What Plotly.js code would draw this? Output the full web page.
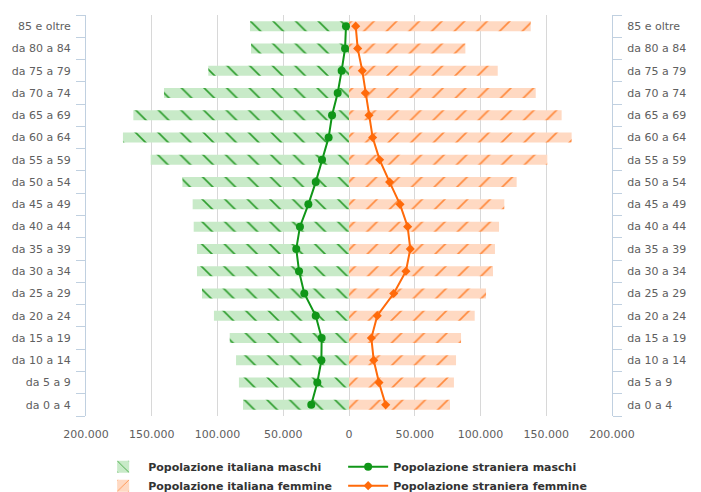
<!DOCTYPE html>
<html>
<head>
<meta charset="utf-8">
<script src="https://cdn.plot.ly/plotly-3.0.1.min.js"></script>
<style>html,body{margin:0;padding:0;background:#fff;}#chart{width:701px;height:492px;}</style>
</head>
<body>
<div id="chart"></div>
<script>
// Age classes, bottom to top
const categories = ["da 0 a 4","da 5 a 9","da 10 a 14","da 15 a 19","da 20 a 24","da 25 a 29","da 30 a 34","da 35 a 39","da 40 a 44","da 45 a 49","da 50 a 54","da 55 a 59","da 60 a 64","da 65 a 69","da 70 a 74","da 75 a 79","da 80 a 84","85 e oltre"];
const italianaMaschi = [80600,83700,85900,90700,102700,111800,115600,115600,118100,118900,126700,150800,171900,164000,140700,107000,74500,75300];
const stranieraMaschi = [28700,24100,21000,20800,25300,34000,38000,40100,37300,30900,25300,20500,15500,12900,8600,5600,3000,2300];
const italianaFemmine = [76800,79800,81400,85200,95600,104200,109500,111000,114100,118100,127500,150800,169300,161700,142000,113100,88500,138200];
const stranieraFemmine = [27900,22800,18800,17000,21500,34000,43300,46600,44600,38800,30900,23300,18000,15200,12400,10100,6600,5100];
const xTickVals = [-200000,-150000,-100000,-50000,0,50000,100000,150000,200000];
const xTickText = ["200.000","150.000","100.000","50.000","0","50.000","100.000","150.000","200.000"];

const neg = a => a.map(v => -v);
const lbl = "#606060";
const axisCol = "#C0D0E0";
const fam = "DejaVu Sans, Verdana, sans-serif";

const traces = [
  {type:"bar", orientation:"h", name:"Popolazione italiana maschi", y:categories, x:neg(italianaMaschi), width:0.45,
   marker:{color:"#C8EAC8", line:{width:0}, pattern:{shape:"\\", fgcolor:"#2E9E2E", bgcolor:"#C8EAC8", size:16, solidity:0.1}},
   hoverinfo:"skip"},
  {type:"scatter", mode:"lines+markers", name:"Popolazione straniera maschi", y:categories, x:neg(stranieraMaschi),
   line:{color:"#109618", width:2}, marker:{symbol:"circle", size:8, color:"#109618"}, hoverinfo:"skip"},
  {type:"bar", orientation:"h", name:"Popolazione italiana femmine", y:categories, x:italianaFemmine, width:0.45,
   marker:{color:"#FFD9C2", line:{width:0}, pattern:{shape:"/", fgcolor:"#FF8A3D", bgcolor:"#FFD9C2", size:16, solidity:0.1}},
   hoverinfo:"skip"},
  {type:"scatter", mode:"lines+markers", name:"Popolazione straniera femmine", y:categories, x:stranieraFemmine,
   line:{color:"#FF6A0A", width:2}, marker:{symbol:"diamond", size:7, color:"#FF6A0A"}, hoverinfo:"skip"},
  {type:"scatter", mode:"markers", y:categories, x:categories.map(()=>0), yaxis:"y2", showlegend:false,
   marker:{opacity:0}, hoverinfo:"skip"}
];

const yCommon = {
  type:"category", categoryorder:"array", categoryarray:categories,
  showline:true, linecolor:axisCol, linewidth:1,
  ticks:"outside", tickson:"boundaries", ticklen:9, tickcolor:axisCol, tickwidth:1,
  ticklabelstandoff:12,
  showgrid:false, zeroline:false, fixedrange:true,
  tickfont:{family:fam, size:11, color:lbl},
  range:[-0.5, categories.length-0.5]
};

const layout = {
  width:701, height:492,
  margin:{l:86, r:89, t:15, b:76},
  paper_bgcolor:"#fff", plot_bgcolor:"#fff",
  barmode:"overlay",
  showlegend:true,
  xaxis:{range:[-200000,200000], tickvals:xTickVals, ticktext:xTickText,
    showgrid:true, gridcolor:"#D8D8D8", gridwidth:1, zeroline:false, showline:false,
    ticks:"outside", ticklen:8, tickcolor:"rgba(0,0,0,0)",
    tickfont:{family:fam, size:11, color:lbl}, fixedrange:true},
  yaxis:Object.assign({}, yCommon, {side:"left"}),
  yaxis2:Object.assign({}, yCommon, {side:"right", overlaying:"y"}),
  legend:{orientation:"h", xref:"container", yref:"container", x:0.14, y:0.081, xanchor:"left", yanchor:"top",
    entrywidth:190, itemwidth:40, tracegroupgap:0,
    font:{family:fam, size:11, color:"#333", weight:"bold"}},
  font:{family:fam}
};

Plotly.newPlot("chart", traces, layout, {displayModeBar:false, staticPlot:true});
</script>
</body>
</html>
